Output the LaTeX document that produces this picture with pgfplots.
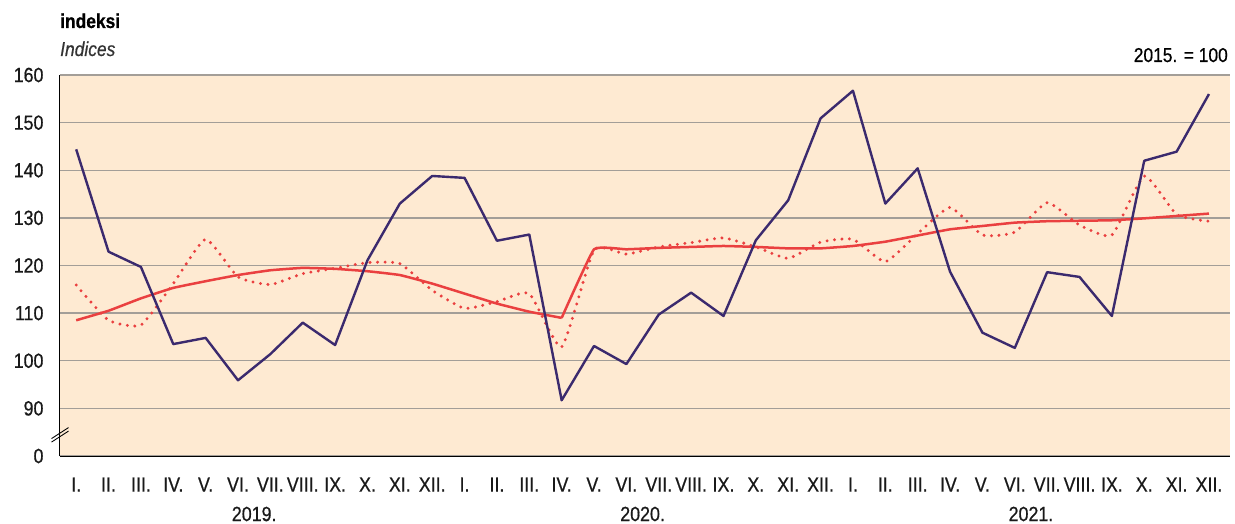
\documentclass[border=0pt]{standalone}
\usepackage{pgfplots}
\pgfplotsset{compat=1.18}
\usepackage{fontspec}
\setmainfont{Liberation Sans}[FakeStretch=0.87,FakeBold=0.6]
\definecolor{bgbeige}{HTML}{FEEAD2}
\definecolor{navy}{HTML}{3B2A6E}
\definecolor{redl}{HTML}{EA4040}
\definecolor{gridgray}{HTML}{A39E98}
\begin{document}
\begin{tikzpicture}
\begin{axis}[
  at={(0,0)}, anchor=south west,
  scale only axis,
  width=1170pt, height=381pt,
  xmin=-0.5, xmax=35.65,
  ymin=80, ymax=160,
  ytick={80,90,100,110,120,130,140,150,160},
  yticklabels={0,90,100,110,120,130,140,150,160},
  xtick={0,...,35},
  xticklabels={I.,II.,III.,IV.,V.,VI.,VII.,VIII.,IX.,X.,XI.,XII.,I.,II.,III.,IV.,V.,VI.,VII.,VIII.,IX.,X.,XI.,XII.,I.,II.,III.,IV.,V.,VI.,VII.,VIII.,IX.,X.,XI.,XII.},
  major tick length=0pt,
  tick label style={font=\fontsize{20.5}{22}\selectfont, text=black!90},
  /pgf/number format/assume math mode=true,
  xticklabel style={yshift=-18pt},
  yticklabel style={xshift=-13pt},
  ymajorgrids,
  grid style={gridgray, line width=1.4pt},
  axis background/.style={fill=bgbeige},
  axis x line*=bottom, axis y line*=left,
  axis line style={black, line width=1pt, -},
  clip=false,
]
% seasonally adjusted (dotted)
\addplot[redl, line width=3.3pt, line cap=round, dash pattern=on 0pt off 7.5pt, smooth, tension=0.3] coordinates {
(0,115.9)(1,108.5)(2,107.5)(3,116.2)(4,125.5)(5,117.6)(6,116.0)(7,118.3)(8,119.4)(9,120.6)(10,120.4)(11,114.8)
(12,111.0)(13,112.4)(14,114.1)(15,102.9)(16,123.2)(17,122.4)(18,123.9)(19,124.8)(20,125.8)(21,123.9)(22,121.5)(23,124.9)
(24,125.5)(25,120.8)(26,126.7)(27,132.2)(28,126.4)(29,127.0)(30,133.2)(31,128.5)(32,126.4)(33,138.8)(34,130.7)(35,129.3)};
% trend
\addplot[redl, line width=2.5pt, smooth, tension=0.2] coordinates {
(0,108.5)(1,110.5)(2,113.1)(3,115.3)(4,116.7)(5,118.0)(6,119.0)(7,119.5)(8,119.3)(9,118.8)(10,118.0)(11,116.2)
(12,114.1)(13,112.0)(14,110.3)(15,109.0)};
\addplot[redl, line width=2.5pt, smooth, tension=0.2] coordinates {
(15,109.0)(16,123.4)(17,123.4)(18,123.7)(19,123.9)(20,124.1)(21,123.9)(22,123.6)(23,123.6)
(24,124.1)(25,125.0)(26,126.3)(27,127.6)(28,128.3)(29,129.0)(30,129.3)(31,129.4)(32,129.5)(33,129.9)(34,130.4)(35,130.9)};
% original
\addplot[navy, line width=2.4pt, line join=round] coordinates {
(0,144.4)(1,122.9)(2,119.7)(3,103.5)(4,104.8)(5,95.9)(6,101.4)(7,108.0)(8,103.3)(9,121.1)(10,133.0)(11,138.8)
(12,138.4)(13,125.2)(14,126.5)(15,91.7)(16,103.1)(17,99.3)(18,109.7)(19,114.3)(20,109.4)(21,125.3)(22,133.7)(23,150.9)
(24,156.7)(25,133.0)(26,140.4)(27,118.7)(28,105.9)(29,102.7)(30,118.6)(31,117.6)(32,109.4)(33,142.0)(34,143.9)(35,156.0)};
% axis break mark
\draw[black, line width=0.9pt] (axis cs:-0.5,84.6) ++(-8.5pt,-4.5pt) -- ++(17pt,11pt);
\draw[black, line width=0.9pt] (axis cs:-0.5,84.6) ++(-8.5pt,-8pt) -- ++(17pt,11pt);
% year labels
\node[font=\fontsize{20.5}{22}\selectfont, text=black!90, anchor=center] at ([yshift=-58pt]axis cs:5.5,80) {2019.};
\node[font=\fontsize{20.5}{22}\selectfont, text=black!90, anchor=center] at ([yshift=-58pt]axis cs:17.5,80) {2020.};
\node[font=\fontsize{20.5}{22}\selectfont, text=black!90, anchor=center] at ([yshift=-58pt]axis cs:29.5,80) {2021.};
\end{axis}
\node[anchor=base west, font=\fontsize{20}{22}\selectfont\bfseries, inner sep=0pt] at (0pt,428pt) {indeksi};
\node[anchor=base west, font=\fontsize{20}{22}\selectfont\itshape, text=black!80, inner sep=0pt] at (0pt,400pt) {Indices};
\node[anchor=base east, font=\fontsize{20}{22}\selectfont, inner sep=0pt] at (1168pt,394pt) {2015. = 100};
\pgfresetboundingbox
\useasboundingbox (-60pt,-67pt) rectangle (1175pt,456pt);
\end{tikzpicture}
\end{document}
